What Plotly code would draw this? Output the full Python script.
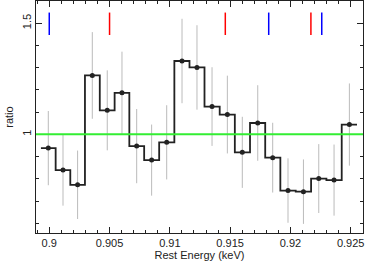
import plotly.graph_objects as go

energy = [0.89992, 0.90114, 0.90235, 0.90357, 0.90481, 0.90603, 0.90725, 0.90849,
          0.90974, 0.91101, 0.91225, 0.91350, 0.91477, 0.91601, 0.91729, 0.91853,
          0.91980, 0.92108, 0.92235, 0.92362, 0.92489]
ratio = [0.938, 0.839, 0.773, 1.265, 1.108, 1.187, 0.947, 0.884, 0.964, 1.330,
         1.301, 1.125, 1.089, 0.919, 1.051, 0.895, 0.747, 0.742, 0.801, 0.794, 1.044]
err = [0.167, 0.160, 0.154, 0.195, 0.180, 0.185, 0.167, 0.160, 0.167, 0.190,
       0.190, 0.177, 0.175, 0.160, 0.170, 0.157, 0.145, 0.145, 0.155, 0.160, 0.185]

red_lines = [0.9050, 0.9146, 0.9217]
blue_lines = [0.9000, 0.9182, 0.9226]
marker_lo, marker_hi = 1.447, 1.548

# step outline from bin centres
n = len(energy)
edges = [energy[0] - (energy[1] - energy[0]) / 2]
for i in range(n - 1):
    edges.append((energy[i] + energy[i + 1]) / 2)
edges.append(energy[-1] + (energy[-1] - energy[-2]) / 2)
sx, sy = [], []
for i in range(n):
    sx += [edges[i], edges[i + 1]]
    sy += [ratio[i], ratio[i]]

fig = go.Figure()
fig.add_trace(go.Scatter(
    x=energy, y=ratio, mode="markers",
    marker=dict(size=0.1, color="rgba(0,0,0,0)"),
    error_y=dict(type="data", array=err, visible=True, color="#bbbbbb",
                 thickness=1, width=0),
    showlegend=False, hoverinfo="skip"))
fig.add_trace(go.Scatter(x=sx, y=sy, mode="lines",
                         line=dict(color="#222222", width=1.8),
                         showlegend=False))
fig.add_trace(go.Scatter(x=energy, y=ratio, mode="markers",
                         marker=dict(size=5, color="#222222"),
                         showlegend=False))

fig.add_shape(type="line", xref="paper", yref="y", x0=0, x1=1, y0=1, y1=1,
              line=dict(color="#33ee33", width=2))
for xv in red_lines:
    fig.add_shape(type="line", xref="x", yref="y", x0=xv, x1=xv,
                  y0=marker_lo, y1=marker_hi, line=dict(color="#ff0000", width=1.5))
for xv in blue_lines:
    fig.add_shape(type="line", xref="x", yref="y", x0=xv, x1=xv,
                  y0=marker_lo, y1=marker_hi, line=dict(color="#0000ff", width=1.5))

font = dict(family="Liberation Sans, Arial, sans-serif", size=11, color="#222222")
fig.update_layout(
    width=365, height=262,
    margin=dict(l=36, r=2, t=1, b=29),
    paper_bgcolor="white", plot_bgcolor="white",
    font=font,
    xaxis=dict(range=[0.8989, 0.92602], showgrid=False, zeroline=False,
               showline=True, linecolor="#222222", linewidth=1, mirror="ticks",
               ticks="inside", ticklen=6, tickcolor="#222222",
               tickvals=[0.9, 0.905, 0.91, 0.915, 0.92, 0.925],
               ticktext=["0.9", "0.905", "0.91", "0.915", "0.92", "0.925"],
               minor=dict(dtick=0.001, tick0=0.9, ticks="inside", ticklen=3,
                          tickcolor="#222222", showgrid=False),
               title=dict(text="Rest Energy (keV)", standoff=2, font=font)),
    yaxis=dict(range=[0.556, 1.60], showgrid=False, zeroline=False,
               showline=True, linecolor="#222222", linewidth=1, mirror="ticks",
               ticks="inside", ticklen=6, tickcolor="#222222",
               tickvals=[1, 1.5], ticktext=["1", "1.5"], tickangle=-90,
               minor=dict(dtick=0.1, tick0=0.5, ticks="inside", ticklen=3,
                          tickcolor="#222222", showgrid=False),
               title=dict(text="ratio", standoff=4, font=font)),
)
fig.write_html("out.html", config={"displayModeBar": False},
               post_script="document.body.style.margin='0';")
